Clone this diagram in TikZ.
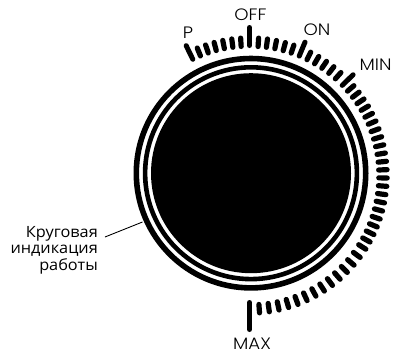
\documentclass[tikz,border=0pt]{standalone}
\usepackage{fontspec}
\setmainfont{Poppins Light}[FakeStretch=1.1]
\newfontfamily\rufont{Open Sans}[FakeStretch=1.05]
\tikzset{
  minortick/.style={line width=5.2pt,line cap=round},
  majortick/.style={line width=5pt,line cap=round},
  dial/.style={font=\fontsize{16.5}{16.5}\selectfont,inner sep=0pt},
  note/.style={font=\rufont\fontsize{15.5}{16.5}\selectfont,align=right,inner sep=0pt,anchor=east},
}
\begin{document}
\begin{tikzpicture}[x=1pt,y=-1pt]
\useasboundingbox (0,0) rectangle (395,354);
\fill (251,173.2) circle[radius=100];
\draw[line width=4.6pt] (251,173.2) circle[radius=105.9];
\draw[line width=5.6pt] (251,173.2) circle[radius=114.7];
\begin{scope}[shift={(249.5,175.5)}]
\foreach \t in {-22.3,-18.6,-14.9,-11.2,-7.4,-3.7,3.8,7.5,11.3,15.1,18.8,26.4,30.2,34,37.8,41.6}{
  \draw[minortick] ({\t-90}:129.3) -- ({\t-90}:137.7);
}
\foreach \k in {1,...,35}{
  \pgfmathsetmacro{\t}{\k<=22 ? 45.8+3.48*\k : 122.4+4.11*(\k-22)}
  \draw[minortick] ({\t-90}:129.3) -- ({\t-90}:137.7);
}
\foreach \t in {-26,22.6,45.8}{
  \draw[majortick] ({\t-90}:129.3) -- ({\t-90}:144.5);
}
\draw[majortick] (-90:130) -- (-90:148);
\draw[majortick] (90:127) -- (90:154);
\end{scope}
\node[dial] (p) at (188,33) {P};
\node[dial] (off) at (250.5,15) {OFF};
\node[dial] (on) at (317,30) {ON};
\node[dial] (min) at (375.5,65) {MIN};
\node[dial] (max) at (252,344) {MAX};
\node[note] (lbl) at (98,250) {Круговая\\индикация\\работы};
\coordinate (ring) at (142.5,222);
\coordinate (lead) at (105,237);
\draw[line width=0.9pt] (lead) -- (ring);
\end{tikzpicture}
\end{document}
